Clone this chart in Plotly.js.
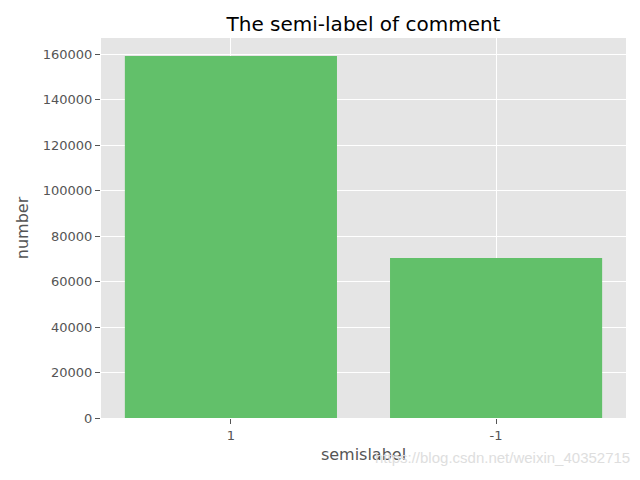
<!DOCTYPE html>
<html>
<head>
<meta charset="utf-8">
<script src="https://cdn.plot.ly/plotly-3.0.1.min.js"></script>
<style>html,body{margin:0;padding:0;background:#fff;}#chart{width:640px;height:480px;}</style>
</head>
<body>
<div id="chart"></div>
<script>
const categories = ['1', '-1'];
const counts = [159100, 70300];
const yTicks = [0, 20000, 40000, 60000, 80000, 100000, 120000, 140000, 160000];

const trace = {
  type: 'bar',
  x: categories,
  y: counts,
  width: 0.8,
  marker: {color: '#62c06a', line: {width: 0}},
  hoverinfo: 'x+y'
};

const layout = {
  width: 640,
  height: 480,
  margin: {l: 101, r: 14, t: 38, b: 62},
  paper_bgcolor: '#ffffff',
  plot_bgcolor: '#e5e5e5',
  font: {family: 'DejaVu Sans, sans-serif', color: '#555555', size: 13},
  title: {text: 'The semi-label of comment', font: {size: 20, color: '#000000'}, xref: 'paper', x: 0.5, xanchor: 'center', y: 0.965, yanchor: 'top'},
  showlegend: false,
  xaxis: {
    type: 'category',
    range: [-0.49, 1.49],
    showgrid: true,
    gridcolor: '#ffffff',
    gridwidth: 1,
    zeroline: false,
    ticks: 'outside',
    ticklen: 5,
    tickcolor: '#555555',
    tickfont: {size: 13, color: '#555555'},
    title: {text: 'semislabel', font: {size: 16, color: '#555555'}, standoff: 7},
    showline: false
  },
  yaxis: {
    range: [0, 167055],
    tickvals: yTicks,
    tickformat: 'd',
    showgrid: true,
    gridcolor: '#ffffff',
    gridwidth: 1,
    zeroline: false,
    ticks: 'outside',
    ticklen: 5,
    tickcolor: '#555555',
    tickfont: {size: 13, color: '#555555'},
    title: {text: 'number', font: {size: 16, color: '#555555'}, standoff: 10},
    showline: false
  },
  annotations: [{
    text: 'https://blog.csdn.net/weixin_40352715',
    xref: 'paper', yref: 'paper',
    x: 1.012, y: -0.105,
    xanchor: 'right', yanchor: 'middle',
    showarrow: false,
    font: {size: 15, color: '#dedede', family: 'Liberation Sans, Arial, sans-serif'}
  }]
};

Plotly.newPlot('chart', [trace], layout, {displayModeBar: false, staticPlot: true});
</script>
</body>
</html>
